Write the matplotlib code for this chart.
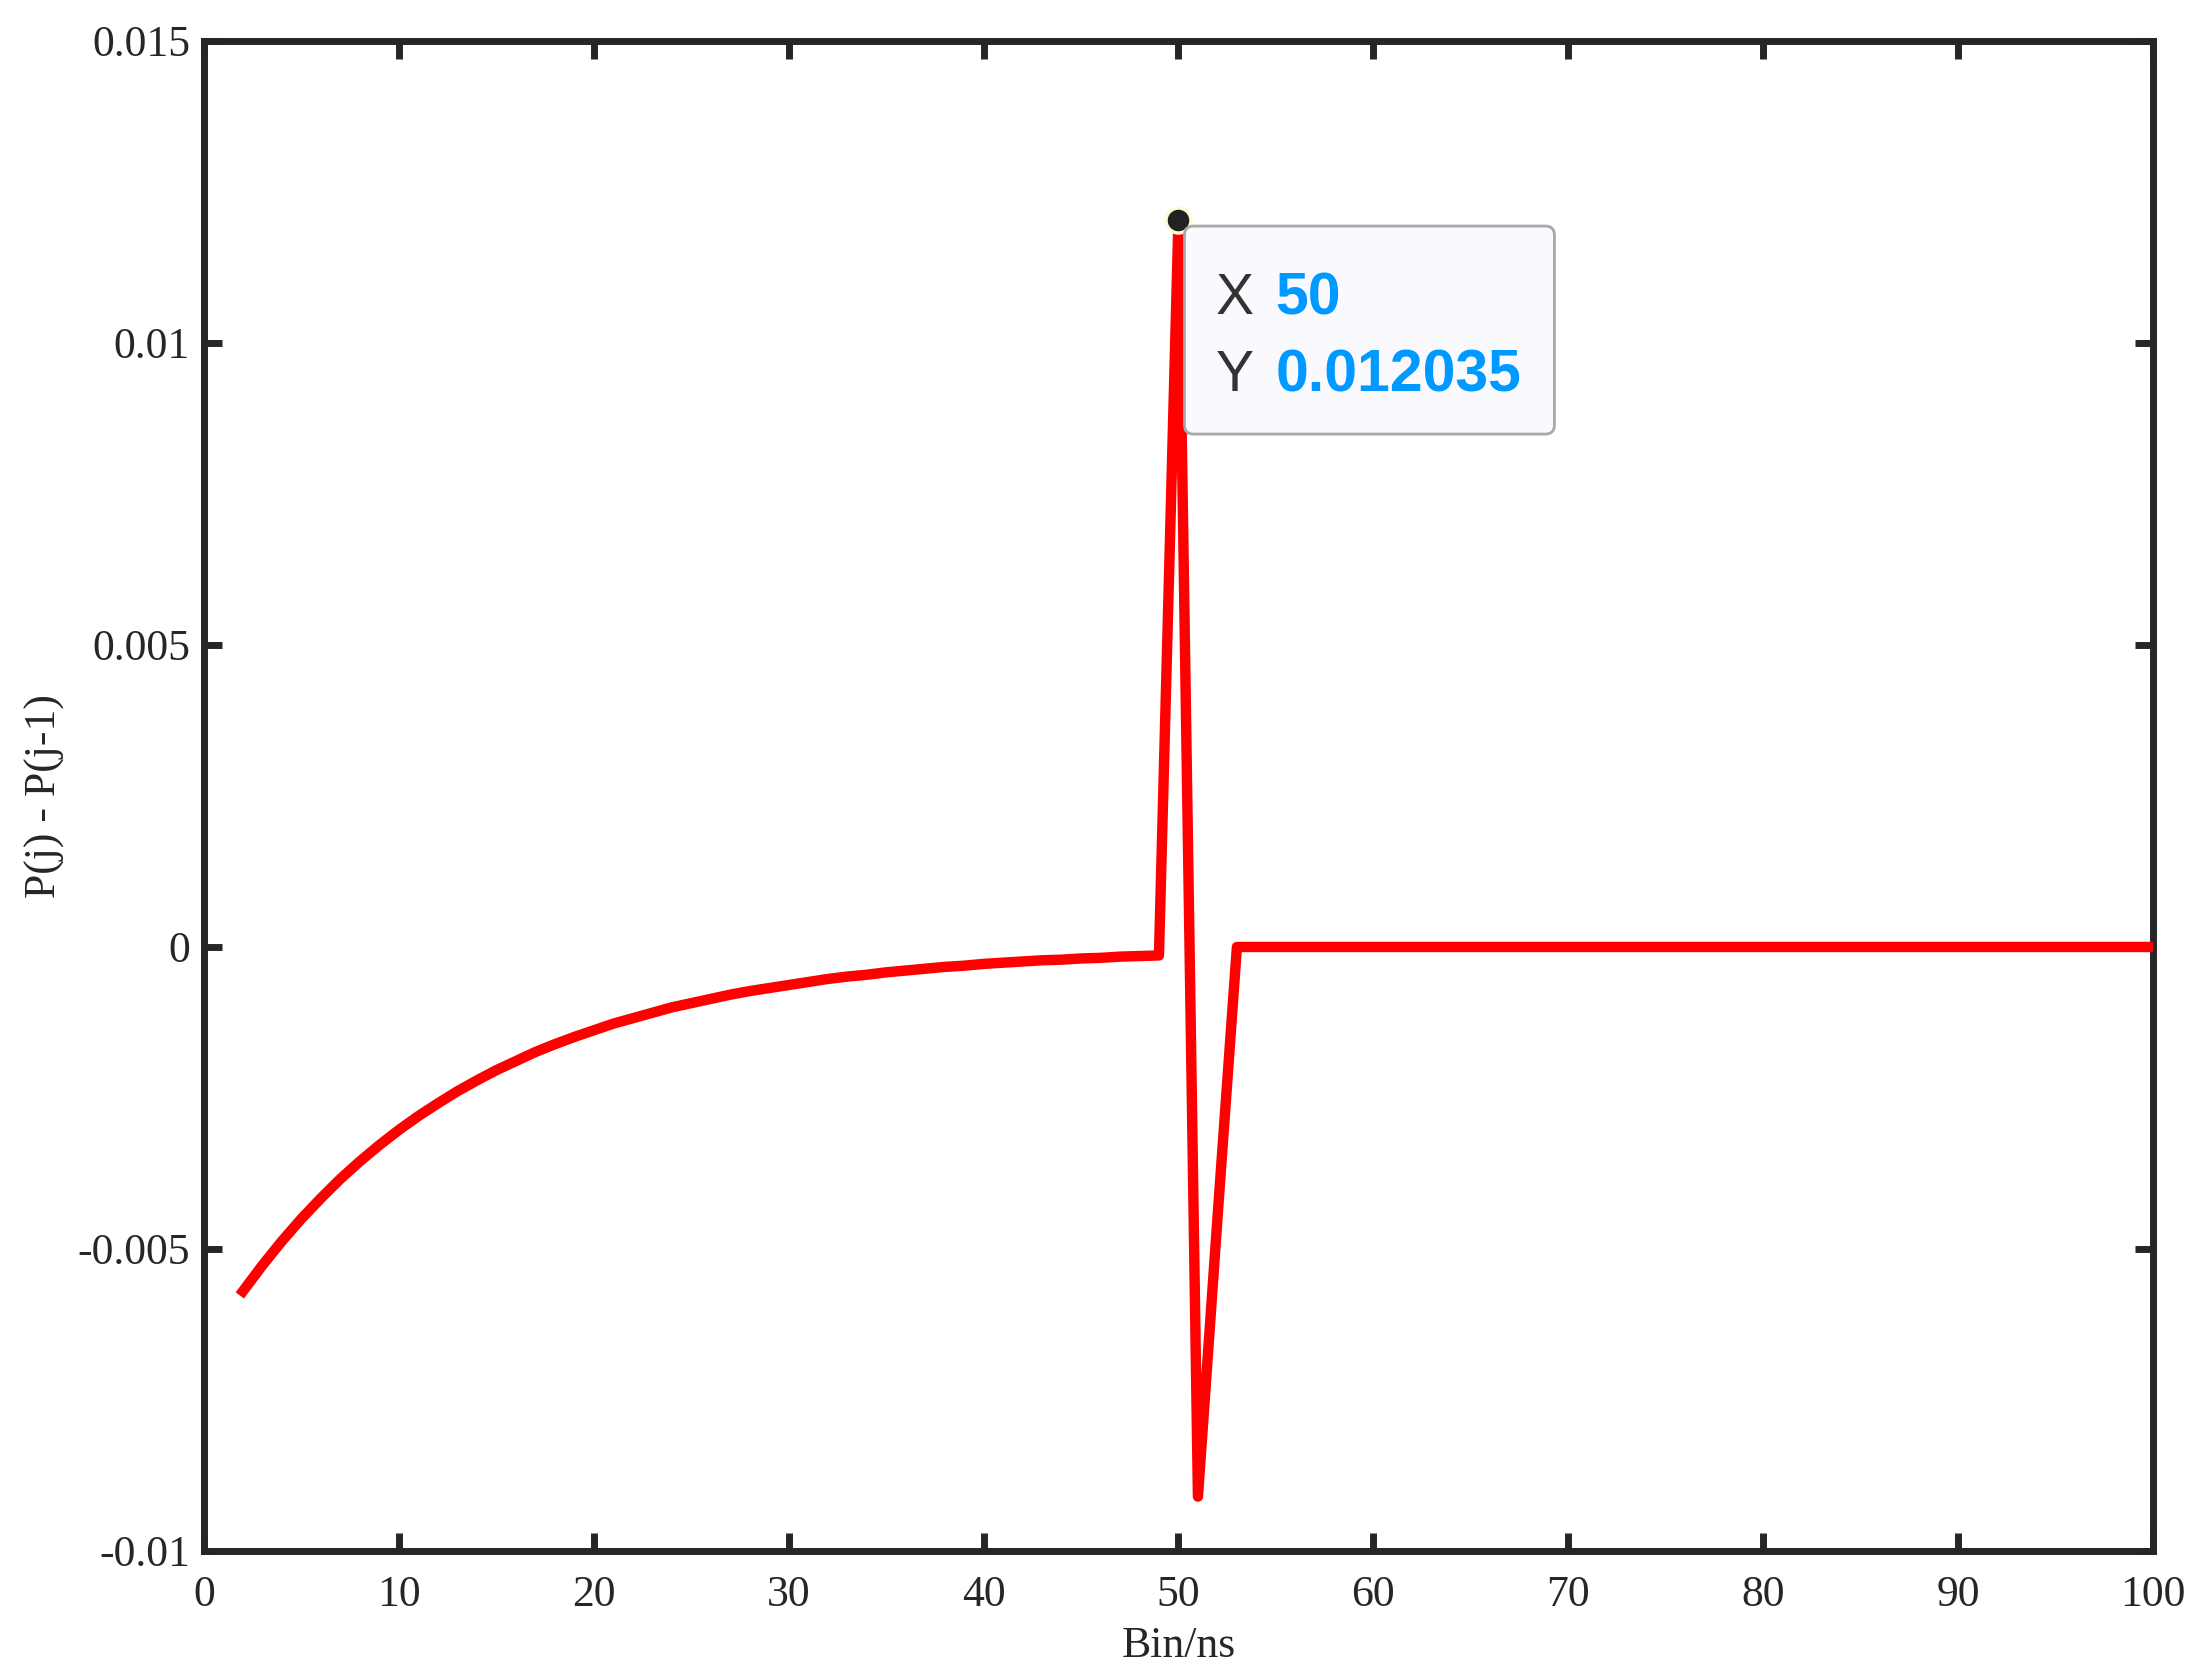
import numpy as np
import matplotlib
matplotlib.use("Agg")
import matplotlib.pyplot as plt
from matplotlib.patches import FancyBboxPatch
from matplotlib.transforms import IdentityTransform

# bins 2..100 (ns)
bins = np.arange(2, 101)
diff_decay = [
    -0.00570, -0.00527, -0.00487, -0.00450, -0.00416, -0.00384, -0.00355, -0.00328,
    -0.00303, -0.00280, -0.00259, -0.00239, -0.00221, -0.00204, -0.00189, -0.00174,
    -0.00161, -0.00149, -0.00138, -0.00127, -0.00118, -0.00109, -0.00100, -0.00093,
    -0.00086, -0.00079, -0.00073, -0.00068, -0.00063, -0.00058, -0.00053, -0.00049,
    -0.00046, -0.00042, -0.00039, -0.00036, -0.00033, -0.00031, -0.00028, -0.00026,
    -0.00024, -0.00022, -0.00021, -0.00019, -0.00018, -0.00016, -0.00015, -0.00014,
]
diff_pulse = [0.012035, -0.0091, -0.0045]
diff_tail = [
    0.0, 0.0, 0.0, 0.0, 0.0, 0.0, 0.0, 0.0, 0.0, 0.0, 0.0, 0.0,
    0.0, 0.0, 0.0, 0.0, 0.0, 0.0, 0.0, 0.0, 0.0, 0.0, 0.0, 0.0,
    0.0, 0.0, 0.0, 0.0, 0.0, 0.0, 0.0, 0.0, 0.0, 0.0, 0.0, 0.0,
    0.0, 0.0, 0.0, 0.0, 0.0, 0.0, 0.0, 0.0, 0.0, 0.0, 0.0, 0.0,
]
diff = np.array(diff_decay + diff_pulse + diff_tail)

tip_x = 50
tip_y = 0.012035

xticks = [0, 10, 20, 30, 40, 50, 60, 70, 80, 90, 100]
yticks = [-0.01, -0.005, 0, 0.005, 0.01, 0.015]
ytick_labels = ["-0.01", "-0.005", "0", "0.005", "0.01", "0.015"]

dark = "#262626"
plt.rcParams["font.family"] = ["Liberation Serif", "DejaVu Serif"]

fig = plt.figure(figsize=(22.12, 16.8), dpi=100)
ax = fig.add_axes([0.0922, 0.0768, 0.9733 - 0.0922, 0.9756 - 0.0768])

ax.plot(bins, diff, color="#ff0000", linewidth=7.5, solid_joinstyle="round", zorder=3)

ax.set_xlim(0, 100)
ax.set_ylim(-0.01, 0.015)
ax.set_xticks(xticks)
ax.set_xticklabels([str(t) for t in xticks])
ax.set_yticks(yticks)
ax.set_yticklabels(ytick_labels)

ax.tick_params(direction="in", length=13, width=5, colors=dark, labelsize=31.5,
               top=True, right=True, pad=10)
ax.tick_params(axis="x", pad=17)
for s in ax.spines.values():
    s.set_linewidth(5)
    s.set_color(dark)

ax.set_xlabel("Bin/ns", fontsize=31.5, color=dark, labelpad=8)
ax.set_ylabel("P(j) - P(j-1)", fontsize=31.5, color=dark, labelpad=9)

# data tip
ax.plot([tip_x], [tip_y], "o", markersize=18, markerfacecolor="#222222",
        markeredgecolor="#fffbd6", markeredgewidth=2.5, zorder=5)

fig.canvas.draw()
px, py = ax.transData.transform((tip_x, tip_y))
box = FancyBboxPatch((px + 6, py - 6 - 208), 370, 208,
                     boxstyle="round,pad=0,rounding_size=9",
                     transform=IdentityTransform(), facecolor="#f9f9fe",
                     edgecolor="#a8a8a8", linewidth=2, zorder=6)
fig.patches.append(box)

sans = ["Liberation Sans", "DejaVu Sans"]
fig.text(px + 37, py - 94, "X", transform=IdentityTransform(), fontsize=41,
         family=sans, color="#333333", va="baseline", ha="left", zorder=7)
fig.text(px + 97, py - 94, "50", transform=IdentityTransform(), fontsize=42.5,
         family=sans, color="#0099ff", fontweight="bold", va="baseline", ha="left", zorder=7)
fig.text(px + 37, py - 171, "Y", transform=IdentityTransform(), fontsize=41,
         family=sans, color="#333333", va="baseline", ha="left", zorder=7)
fig.text(px + 97, py - 171, "0.012035", transform=IdentityTransform(), fontsize=42.5,
         family=sans, color="#0099ff", fontweight="bold", va="baseline", ha="left", zorder=7)

fig.savefig("out.png", dpi=100)
